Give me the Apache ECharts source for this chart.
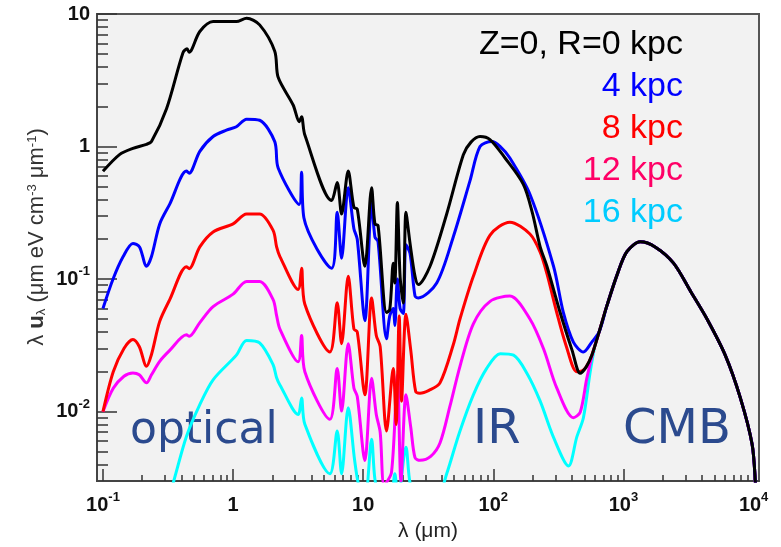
<!DOCTYPE html>
<html>
<head>
<meta charset="utf-8">
<script src="https://cdn.jsdelivr.net/npm/echarts@6/dist/echarts.min.js"></script>
<style>
  html, body { margin: 0; padding: 0; background: #fff; }
  #chart { width: 781px; height: 547px; }
</style>
</head>
<body>
<div id="chart"></div>
<script>
// [wavelength in μm, λu_λ in eV cm^-3], one list per radius
const r0 = [
  [0.1, 0.65], [0.134, 0.87], [0.17, 0.97], [0.216, 1.04], [0.236, 1.09], [0.308, 1.93],
  [0.412, 5.1], [0.443, 5.46], [0.459, 5.15], [0.555, 7.38], [0.702, 8.77], [1.06, 8.77],
  [1.27, 9.29], [1.6, 8.28], [2.09, 5.24], [2.22, 3.33], [2.9, 2.05], [3.22, 1.54],
  [3.36, 1.68], [3.56, 1.22], [5.72, 0.391], [6.31, 0.535], [6.82, 0.31], [7.67, 0.653],
  [8.48, 0.348], [9.0, 0.338], [10.3, 0.125], [11.6, 0.49], [12.3, 0.261], [13.0, 0.254],
  [15.1, 0.056], [16.0, 0.059], [17.0, 0.132], [17.5, 0.0935], [18.3, 0.379], [19.2, 0.105],
  [20.3, 0.066], [21.3, 0.319], [22.9, 0.186], [25.0, 0.105], [26.5, 0.091], [32.6, 0.125],
  [43.8, 0.31], [58.8, 0.867], [67.3, 1.08], [79, 1.19], [94.2, 1.13], [123, 0.82],
  [170, 0.519], [199, 0.319], [229, 0.175], [258, 0.125], [326, 0.056], [403, 0.029],
  [465, 0.0195], [516, 0.0217]
]
const r4 = [
  [0.1, 0.06], [0.119, 0.099], [0.143, 0.148], [0.17, 0.186], [0.191, 0.175], [0.216, 0.125],
  [0.236, 0.148], [0.273, 0.261], [0.326, 0.368], [0.438, 0.653], [0.46, 0.63], [0.555, 0.92],
  [0.702, 1.19], [0.889, 1.33], [1.06, 1.41], [1.27, 1.61], [1.6, 1.58], [2.09, 1.09],
  [2.22, 0.69], [3.22, 0.366], [3.36, 0.64], [3.5, 0.29], [5.72, 0.121], [6.31, 0.319],
  [6.82, 0.144], [7.67, 0.49], [8.48, 0.24], [9.0, 0.2], [10.3, 0.0485], [11.6, 0.379],
  [12.3, 0.208], [13.0, 0.191], [15.1, 0.0355], [16.0, 0.053], [17.0, 0.06], [17.5, 0.0446],
  [18.3, 0.1], [19.2, 0.06], [20.3, 0.055], [21.3, 0.182], [22.9, 0.156], [25.0, 0.0745],
  [26.5, 0.0722], [36.7, 0.0935], [49.2, 0.208], [66.2, 0.553], [79, 1.0], [97.2, 1.09],
  [113, 1.0], [134, 0.82], [191, 0.437], [290, 0.125], [345, 0.056], [412, 0.0335],
  [492, 0.0282], [571, 0.0335]
]
const r8 = [
  [0.1, 0.01], [0.12, 0.02], [0.145, 0.03], [0.17, 0.035], [0.19, 0.031], [0.216, 0.022],
  [0.236, 0.027], [0.273, 0.048], [0.326, 0.07], [0.438, 0.124], [0.46, 0.12], [0.555, 0.175],
  [0.702, 0.227], [1.0, 0.261], [1.27, 0.31], [1.6, 0.31], [2.03, 0.233], [2.16, 0.175],
  [2.29, 0.148], [3.16, 0.0836], [3.36, 0.121], [3.56, 0.0646], [5.54, 0.0282], [6.31, 0.0664],
  [6.82, 0.0326], [7.67, 0.105], [8.48, 0.042], [9.0, 0.04], [10.3, 0.0134], [11.6, 0.0722],
  [12.6, 0.0375], [13.5, 0.031], [15.1, 0.00716], [17.0, 0.0212], [17.9, 0.008], [18.9, 0.0528],
  [19.7, 0.012], [21.3, 0.0544], [23.2, 0.029], [25.3, 0.0142], [27.3, 0.0138], [32, 0.0145],
  [38.9, 0.0165], [49.2, 0.032], [55.4, 0.05], [70.2, 0.105], [94.4, 0.215], [134, 0.269],
  [191, 0.219], [229, 0.16], [258, 0.11], [307, 0.056], [362, 0.0316], [438, 0.02],
  [481, 0.0203], [516, 0.0217]
]
const r12 = [
  [0.1, 0.01], [0.12, 0.015], [0.145, 0.0185], [0.17, 0.0196], [0.19, 0.019], [0.216, 0.0165],
  [0.236, 0.019], [0.273, 0.024], [0.326, 0.029], [0.438, 0.038], [0.46, 0.037], [0.555, 0.047],
  [0.702, 0.062], [1.0, 0.077], [1.27, 0.096], [1.6, 0.096], [2.03, 0.07], [2.16, 0.053],
  [2.29, 0.042], [3.16, 0.0238], [3.36, 0.0375], [3.56, 0.02], [5.54, 0.00875], [6.31, 0.0212],
  [6.82, 0.0101], [7.67, 0.0326], [8.48, 0.0151], [9.0, 0.013], [10.3, 0.00428], [11.6, 0.0179],
  [12.6, 0.00953], [13.5, 0.007], [14.5, 0.0028], [16.5, 0.0035], [18.3, 0.019], [19.5, 0.003],
  [21.3, 0.0134], [23.2, 0.0076], [25.0, 0.0045], [27.3, 0.0043], [33, 0.0046], [38.9, 0.0058],
  [46.4, 0.011], [55.4, 0.022], [70.2, 0.046], [94.4, 0.068], [134, 0.0745], [191, 0.05],
  [243, 0.0298], [307, 0.0151], [412, 0.009], [465, 0.0099], [523, 0.0179], [588, 0.029]
]
const r16 = [
  [0.3, 0.0018], [0.35, 0.003], [0.438, 0.0065], [0.555, 0.0113], [0.702, 0.0174], [1.06, 0.0267],
  [1.27, 0.0344], [1.6, 0.033], [2.03, 0.0226], [2.16, 0.018], [2.29, 0.0159], [3.16, 0.00953],
  [3.36, 0.0127], [3.56, 0.00803], [5.54, 0.0034], [6.31, 0.00716], [6.82, 0.0034], [7.67, 0.0107],
  [8.59, 0.0043], [9.3, 0.0027], [10.3, 0.0022], [11.6, 0.0062], [12.3, 0.0031], [13.5, 0.0022],
  [16.0, 0.0018], [17.5, 0.0034], [18.5, 0.0022], [21.3, 0.0054], [22.9, 0.0029], [27, 0.0018],
  [36.7, 0.0021], [43.8, 0.0034], [55, 0.007], [70.2, 0.0134], [88.9, 0.0212], [113, 0.0274],
  [143, 0.0267], [181, 0.0195], [229, 0.012], [290, 0.0064], [378, 0.0039], [438, 0.00645],
  [492, 0.009], [555, 0.02], [610, 0.033]
]
// long wavelength part, the same for every radius (CMB)
const cmbTail = [
  [571, 0.0267], [650, 0.04], [745, 0.0628], [900, 0.11], [1062, 0.161], [1344, 0.191],
  [1750, 0.175], [2425, 0.132], [3300, 0.08], [4385, 0.05], [6050, 0.0267], [7907, 0.0127],
  [9730, 0.0057], [10300, 0.003], [10700, 0.0012]
]

const xMajor = [0.1, 1, 10, 100, 1000, 10000]
const yMajor = [0.01, 0.1, 1, 10]
const legendLabels = ['Z=0, R=0 kpc', '4 kpc', '8 kpc', '12 kpc', '16 kpc']
const legendColors = ['#000000', '#0000ff', '#ff0000', '#ff0066', '#00ccff']
const lineColors = ['#000000', '#0000ff', '#ff0000', '#ff00ff', '#00ffff']
const regionLabels = ['optical', 'IR', 'CMB']

const font = 'Liberation Sans, Arial, sans-serif'

// minor ticks 2..9 in each decade
function minorTicks(lo, hi) {
  const out = []
  for (let e = -3; e <= 4; e++) {
    for (let k = 2; k <= 9; k++) {
      const v = k * Math.pow(10, e)
      if (v > lo && v < hi) out.push(+v.toPrecision(3))
    }
  }
  return out
}

function powLabel(v) {
  const e = Math.round(Math.log10(v))
  if (e === 0) return '{b|1}'
  if (e === 1) return '{b|10}'
  return '{b|10}{s|' + e + '}'
}

const tickRich = {
  b: { fontSize: 20, fontWeight: 'bold', fontFamily: font, color: '#111', lineHeight: 28 },
  s: { fontSize: 13, fontWeight: 'bold', fontFamily: font, color: '#111', verticalAlign: 'top' },
}

function withTail(pts) {
  const last = pts[pts.length - 1][0]
  return pts.concat(cmbTail.filter((p) => p[0] > last))
}

const xMin = 0.09
const xMax = 11000
const yMin = 0.003
const yMax = 10

const lines = [r0, r4, r8, r12, r16]
// draw 16 kpc first so that R=0 ends on top
const series = lines
  .map((d, i) => ({
    type: 'line',
    name: legendLabels[i],
    data: withTail(d),
    symbol: 'none',
    smooth: 0.3,
    clip: true,
    animation: false,
    lineStyle: { color: lineColors[i], width: 3, join: 'round' },
  }))
  .reverse()

const legendGraphics = legendLabels.map((t, i) => ({
  type: 'text',
  right: 98,
  top: 28 + i * 42,
  style: { text: t, fill: legendColors[i], font: '34px ' + font, align: 'right' },
}))

const regionX = [130, 473, 623]
const regionGraphics = regionLabels.map((t, i) => ({
  type: 'text',
  left: regionX[i],
  top: i === 0 ? 410 : 407,
  style: {
    text: t,
    fill: '#2b4a8e',
    font: (i === 0 ? '44px' : '48px') + ' DejaVu Sans, sans-serif',
  },
}))

const chart = echarts.init(document.getElementById('chart'))

const option = {
  backgroundColor: '#ffffff',
  animation: false,
  grid: {
    left: 97,
    right: 22,
    top: 14,
    bottom: 60,
    show: true,
    backgroundColor: '#f2f2f2',
    borderColor: '#555',
    borderWidth: 2,
    containLabel: false,
  },
  xAxis: [
    {
      type: 'log',
      position: 'bottom',
      min: xMin,
      max: xMax,
      axisLine: { show: true, lineStyle: { color: '#444', width: 2 } },
      axisTick: { show: true, inside: true, length: 6, customValues: minorTicks(xMin, xMax), lineStyle: { color: '#333', width: 1.5 } },
      axisLabel: { show: true, customValues: xMajor, margin: 10, formatter: powLabel, rich: tickRich },
      splitLine: { show: false },
      name: 'λ (μm)',
      nameLocation: 'middle',
      nameGap: 40,
      nameMoveOverlap: false,
      nameTextStyle: { fontSize: 21, fontFamily: font, color: '#222' },
    },
    {
      type: 'log',
      position: 'bottom',
      min: xMin,
      max: xMax,
      axisLine: { show: false },
      axisTick: { show: true, inside: true, length: 12, customValues: xMajor, lineStyle: { color: '#333', width: 1.5 } },
      axisLabel: { show: false },
      splitLine: { show: false },
    },
  ],
  yAxis: [
    {
      type: 'log',
      position: 'left',
      min: yMin,
      max: yMax,
      axisLine: { show: true, lineStyle: { color: '#444', width: 2 } },
      axisTick: { show: true, inside: true, length: 11, customValues: minorTicks(yMin, yMax), lineStyle: { color: '#333', width: 1.5 } },
      axisLabel: { show: true, customValues: yMajor, margin: 7, formatter: powLabel, rich: tickRich },
      splitLine: { show: false },
    },
    {
      type: 'log',
      position: 'left',
      min: yMin,
      max: yMax,
      axisLine: { show: false },
      axisTick: { show: true, inside: true, length: 20, customValues: yMajor, lineStyle: { color: '#333', width: 1.5 } },
      axisLabel: { show: false },
      splitLine: { show: false },
    },
  ],
  graphic: [
    {
      type: 'text',
      x: 37,
      y: 237,
      rotation: Math.PI / 2,
      style: {
        text: 'λ {u|u}{sub|λ} (μm eV cm{sup|-3} μm{sup|-1})',
        font: '22px ' + font,
        fill: '#333',
        align: 'center',
        verticalAlign: 'middle',
        rich: {
          u: { fontSize: 22, fontWeight: 'bold', fontFamily: font, fill: '#333' },
          sub: { fontSize: 13, fontFamily: font, fill: '#333', verticalAlign: 'bottom' },
          sup: { fontSize: 13, fontFamily: font, fill: '#333', verticalAlign: 'top' },
        },
      },
    },
    ...legendGraphics,
    ...regionGraphics,
  ],
  series: series,
}

chart.setOption(option)
</script>
</body>
</html>
